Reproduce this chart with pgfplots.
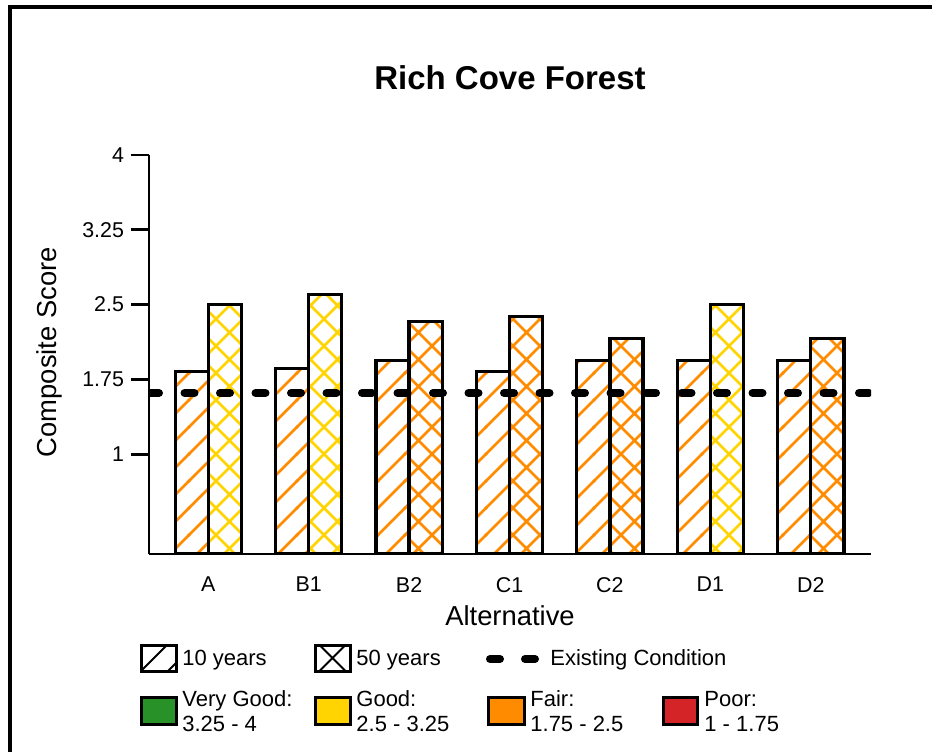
\documentclass[border=0pt]{standalone}
\usepackage{fontspec}
\setmainfont{Liberation Sans}
\usepackage{pgfplots}
\pgfplotsset{compat=1.18}
\usetikzlibrary{patterns}

\definecolor{cOrange}{RGB}{255,140,0}
\definecolor{cYellow}{RGB}{255,212,0}
\definecolor{cGreen}{RGB}{40,145,40}
\definecolor{cRed}{RGB}{212,36,40}

\pgfdeclarepatternformonly{hatchNE}{\pgfqpoint{-1pt}{-1pt}}{\pgfqpoint{14.5pt}{14.5pt}}{\pgfqpoint{13.5pt}{13.5pt}}{%
  \pgfsetlinewidth{1.25pt}%
  \pgfpathmoveto{\pgfqpoint{-0.5pt}{-0.5pt}}%
  \pgfpathlineto{\pgfqpoint{14pt}{14pt}}%
  \pgfusepath{stroke}}
\pgfdeclarepatternformonly{hatchX}{\pgfqpoint{-1pt}{-1pt}}{\pgfqpoint{14.5pt}{14.5pt}}{\pgfqpoint{13.5pt}{13.5pt}}{%
  \pgfsetlinewidth{1.25pt}%
  \pgfpathmoveto{\pgfqpoint{-0.5pt}{-0.5pt}}%
  \pgfpathlineto{\pgfqpoint{14pt}{14pt}}%
  \pgfpathmoveto{\pgfqpoint{-0.5pt}{14pt}}%
  \pgfpathlineto{\pgfqpoint{14pt}{-0.5pt}}%
  \pgfusepath{stroke}}

\begin{document}
\begin{tikzpicture}
\useasboundingbox (0pt,0pt) rectangle (466pt,375.5pt);
\begin{axis}[
  at={(74.5pt,98.5pt)}, anchor=south west,
  scale only axis, width=361pt, height=199.5pt,
  xmin=-0.59, xmax=6.6, ymin=0, ymax=4,
  axis x line*=bottom, axis y line*=left,
  x axis line style={line width=0.9pt, black},
  y axis line style={line width=1.4pt, black},
  xtick={0,1,2,3,4,5,6}, xticklabels={A,B1,B2,C1,C2,D1,D2},
  x tick style={draw=none},
  xticklabel style={yshift=1pt},
  ytick={1,1.75,2.5,3.25,4}, yticklabels={1,1.75,2.5,3.25,4},
  y tick style={line width=1.4pt, black},
  tick align=outside, major tick length=9pt,
  tick label style={font=\fontsize{10.7}{12}\selectfont},
  title={Rich Cove Forest},
  title style={font=\bfseries\fontsize{16.5}{19}\selectfont, at={(axis description cs:0.5,1.133)}, anchor=base},
  xlabel={Alternative},
  xlabel style={font=\fontsize{13.7}{16}\selectfont, at={(axis description cs:0.5,-0.178)}, anchor=base},
  ylabel={Composite Score},
  ylabel style={font=\fontsize{13.7}{16}\selectfont, at={(axis description cs:-0.1385,0.506)}, anchor=center},
]
% 10 years (all Fair)
\addplot[ybar, bar width=0.33, bar shift=-0.165, draw=black, line width=1.6pt,
  pattern=hatchNE, pattern color=cOrange]
  coordinates {(0,1.83) (1,1.86) (2,1.94) (3,1.83) (4,1.94) (5,1.94) (6,1.94)};
% 50 years, Good
\addplot[ybar, bar width=0.33, bar shift=0.165, draw=black, line width=1.6pt,
  pattern=hatchX, pattern color=cYellow]
  coordinates {(0,2.50) (1,2.60) (5,2.50)};
% 50 years, Fair
\addplot[ybar, bar width=0.33, bar shift=0.165, draw=black, line width=1.6pt,
  pattern=hatchX, pattern color=cOrange]
  coordinates {(2,2.33) (3,2.38) (4,2.16) (6,2.16)};
% Existing condition
\addplot[black, line width=4pt, line cap=round, dash pattern=on 5pt off 12.75pt]
  coordinates {(-0.59,1.615) (6.6,1.615)};
\end{axis}

\begin{scope}[x=0.5pt,y=-0.5pt,shift={(0pt,375.5pt)}]
  % frame
  \draw[line width=2pt, line join=miter] (10,760) -- (10,7) -- (940,7);
  % legend row 1
  \begin{scope}
    \clip (141,645) rectangle (176,671);
    \draw[line width=1pt] (114,671) -- (140,645) (141,671) -- (167,645) (168,671) -- (194,645);
  \end{scope}
  \draw[line width=1.5pt] (141,645) rectangle (176,671);
  \node[anchor=base west, inner sep=0, font=\fontsize{11}{13}\selectfont] at (182,665) {10 years};
  \begin{scope}
    \clip (315,645) rectangle (350,671);
    \draw[line width=1pt] (319.5,671) -- (345.5,645) (319.5,645) -- (345.5,671);
  \end{scope}
  \draw[line width=1.5pt] (315,645) rectangle (350,671);
  \node[anchor=base west, inner sep=0, font=\fontsize{11}{13}\selectfont] at (356,665) {50 years};
  \draw[line width=4pt, line cap=round, dash pattern=on 5pt off 12.5pt] (490,659) -- (535,659);
  \node[anchor=base west, inner sep=0, font=\fontsize{11}{13}\selectfont] at (550,665) {Existing Condition};
  % legend row 2
  \draw[line width=1.5pt, fill=cGreen] (141,697) rectangle (176,724);
  \draw[line width=1.5pt, fill=cYellow] (315,697) rectangle (350,724);
  \draw[line width=1.5pt, fill=cOrange] (488,697) rectangle (524,724);
  \draw[line width=1.5pt, fill=cRed] (663,697) rectangle (697,724);
  \begin{scope}[every node/.style={anchor=base west, inner sep=0, font=\fontsize{11}{13}\selectfont}]
    \node at (182,706) {Very Good:};
    \node at (182,731) {3.25 - 4};
    \node at (356,706) {Good:};
    \node at (356,731) {2.5 - 3.25};
    \node at (530,706) {Fair:};
    \node at (530,731) {1.75 - 2.5};
    \node at (704,706) {Poor:};
    \node at (704,731) {1 - 1.75};
  \end{scope}
\end{scope}
\end{tikzpicture}
\end{document}
